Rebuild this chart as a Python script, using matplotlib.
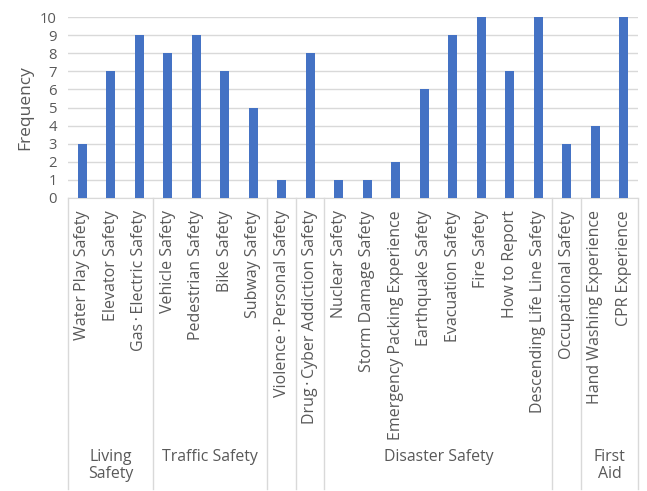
import matplotlib.pyplot as plt
import numpy as np

plt.rcParams['font.family'] = ['Open Sans', 'DejaVu Sans']

# data
dot = '\u2009·\u2009'
topics = ['Water Play Safety', 'Elevator Safety', 'Gas' + dot + 'Electric Safety',
          'Vehicle Safety', 'Pedestrian Safety', 'Bike Safety', 'Subway Safety',
          'Violence' + dot + 'Personal Safety', 'Drug' + dot + 'Cyber Addiction Safety',
          'Nuclear Safety', 'Storm Damage Safety', 'Emergency Packing Experience',
          'Earthquake Safety', 'Evacuation Safety', 'Fire Safety', 'How to Report',
          'Descending Life Line Safety', 'Occupational Safety',
          'Hand Washing Experience', 'CPR Experience']
freq = [3, 7, 9, 8, 9, 7, 5, 1, 8, 1, 1, 2, 6, 9, 10, 7, 10, 3, 4, 10]
groups = ['Living\nSafety', 'Traffic Safety', '', '', 'Disaster Safety', '', 'First\nAid']
group_sizes = [3, 4, 1, 1, 8, 1, 2]

txt = '#595959'
grid = '#d9d9d9'

fig = plt.figure(figsize=(6.47, 4.91), dpi=100)
ax = fig.add_axes([0.105, 0.597, 0.881, 0.368])

x = np.arange(len(topics))
ax.bar(x, freq, width=0.32, color='#4472C4', zorder=3)

ax.set_xlim(-0.5, len(topics) - 0.5)
ax.set_ylim(0, 10)
ax.set_yticks(range(0, 11))
ax.yaxis.grid(True, color=grid, lw=1, zorder=0)
ax.tick_params(axis='y', length=0, labelsize=10.7, labelcolor=txt, pad=8)
ax.set_ylabel('Frequency', fontsize=12.5, color=txt, labelpad=5)

ax.set_xticks(x)
ax.set_xticklabels(topics, rotation=90, fontsize=11.5, color=txt)
ax.tick_params(axis='x', length=0, pad=9)
for lbl in ax.get_xticklabels():
    lbl.set_va('top')

for s in ['left', 'right', 'top']:
    ax.spines[s].set_visible(False)
ax.spines['bottom'].set_color(grid)

# group separators and labels under the axis
tr = ax.get_xaxis_transform()
ybot = -1.613
edges = np.concatenate([[0], np.cumsum(group_sizes)]) - 0.5
for e in edges:
    ax.plot([e, e], [0, ybot], transform=tr, color=grid, lw=1, clip_on=False)
for i, g in enumerate(groups):
    c = (edges[i] + edges[i + 1]) / 2
    ax.text(c, -1.39, g, transform=tr, ha='center', va='top', fontsize=11.4,
            color=txt, linespacing=1.1)

plt.savefig('out.png', dpi=100)
